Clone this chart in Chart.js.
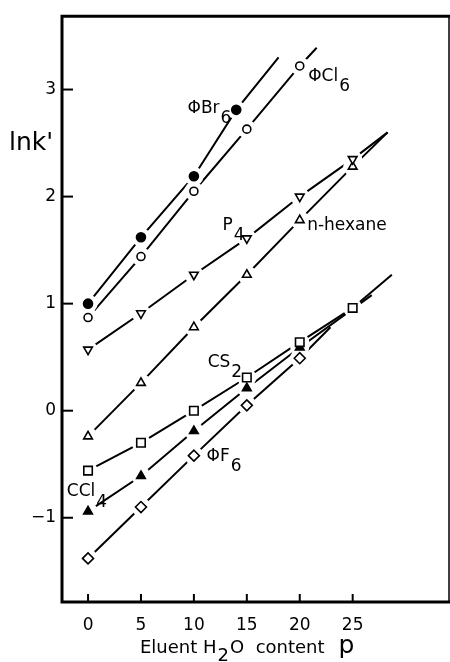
<!DOCTYPE html>
<html><head><meta charset="utf-8">
<script src="https://cdn.jsdelivr.net/npm/chart.js@4"></script>
<style>html,body{margin:0;padding:0;background:#fff;overflow:hidden}#wrap{width:450px;height:662px;position:relative}</style>
</head><body><div id="wrap"><canvas id="c"></canvas></div>
<script>
// Axis ticks
const xTicks = [0, 5, 10, 15, 20, 25];
const yTicks = [-1, 0, 1, 2, 3];

// ln k' against eluent water content p, one pair of arrays per solute,
// plus the end point of each fitted line
const brX = [0, 5, 10, 14];
const brY = [1.00, 1.62, 2.19, 2.81];
const brEnd = [18.0, 3.30];

const clX = [0, 5, 10, 15, 20];
const clY = [0.87, 1.44, 2.05, 2.63, 3.22];
const clEnd = [21.6, 3.39];

const p4X = [0, 5, 10, 15, 20, 25];
const p4Y = [0.57, 0.91, 1.27, 1.61, 2.00, 2.35];
const p4End = [28.3, 2.60];

const hexX = [0, 5, 10, 15, 20, 25];
const hexY = [-0.24, 0.26, 0.78, 1.27, 1.78, 2.28];
const hexEnd = [28.3, 2.60];

const cs2X = [0, 5, 10, 15, 20, 25];
const cs2Y = [-0.56, -0.30, 0.00, 0.31, 0.64, 0.96];
const cs2End = [28.7, 1.27];

const ccl4X = [0, 5, 10, 15, 20];
const ccl4Y = [-0.94, -0.61, -0.19, 0.21, 0.59];
const ccl4End = [26.8, 1.08];

const f6X = [0, 5, 10, 15, 20];
const f6Y = [-1.38, -0.90, -0.42, 0.05, 0.49];
const f6End = [22.9, 0.78];

const FONT = '"DejaVu Sans", sans-serif';

const series = [
  { x: brX, y: brY, end: brEnd, style: 'circle', r: 4.5, fill: '#000', rot: 0 },
  { x: clX, y: clY, end: clEnd, style: 'circle', r: 4, fill: '#fff', rot: 0 },
  { x: p4X, y: p4Y, end: p4End, style: 'triangle', r: 5, fill: '#fff', rot: 180 },
  { x: hexX, y: hexY, end: hexEnd, style: 'triangle', r: 5, fill: '#fff', rot: 0 },
  { x: cs2X, y: cs2Y, end: cs2End, style: 'rect', r: 6, fill: '#fff', rot: 0 },
  { x: ccl4X, y: ccl4Y, end: ccl4End, style: 'triangle', r: 5, fill: '#000', rot: 0 },
  { x: f6X, y: f6Y, end: f6End, style: 'rectRot', r: 5.5, fill: '#fff', rot: 0 }
];

// Solute names: [main, subscript, anchor p, anchor ln k']
const names = [
  ['ΦBr', '6', 9.4, 2.82],
  ['ΦCl', '6', 20.8, 3.12],
  ['P', '4', 12.7, 1.73],
  ['n-hexane', '', 20.7, 1.73],
  ['CS', '2', 11.3, 0.45],
  ['CCl', '4', -2.0, -0.76],
  ['ΦF', '6', 11.2, -0.43]
];

const pts = (xs, ys) => xs.map((v, i) => ({ x: v, y: ys[i] }));

// fitted lines at the back, white halos that open a gap round each
// point, and the point symbols on top
const lineSets = [], haloSets = [], markSets = [];
series.forEach(s => {
  lineSets.push({
    data: pts(s.x, s.y).concat([{ x: s.end[0], y: s.end[1] }]),
    showLine: true, borderColor: '#000', borderWidth: 2, pointRadius: 0,
    pointHoverRadius: 0, order: 3
  });
  haloSets.push({
    data: pts(s.x, s.y), showLine: false, pointRadius: 9.5,
    pointBackgroundColor: '#fff', pointBorderWidth: 0, pointBorderColor: '#fff',
    pointStyle: 'circle', order: 2
  });
  markSets.push({
    data: pts(s.x, s.y), showLine: false, pointRadius: s.r, pointStyle: s.style,
    pointRotation: s.rot, pointBackgroundColor: s.fill, pointBorderColor: '#000',
    pointBorderWidth: 1.6, order: 1
  });
});
const datasets = lineSets.concat(haloSets, markSets);

function drawSub(ctx, x, y, main, sub, size) {
  ctx.font = size + 'px ' + FONT;
  ctx.textAlign = 'left';
  ctx.textBaseline = 'middle';
  ctx.fillText(main, x, y);
  if (sub) {
    const w = ctx.measureText(main).width;
    ctx.fillText(sub, x + w + 1, y + size * 0.6);
  }
}

const decor = {
  id: 'decor',
  afterDraw(chart) {
    const { ctx, chartArea: a, scales } = chart;
    const sx = scales.x, sy = scales.y;
    ctx.save();
    ctx.strokeStyle = '#000';
    ctx.fillStyle = '#000';
    ctx.lineCap = 'square';
    // frame
    ctx.lineWidth = 3;
    ctx.beginPath();
    ctx.moveTo(a.right, a.top); ctx.lineTo(a.left, a.top);
    ctx.lineTo(a.left, a.bottom); ctx.lineTo(a.right, a.bottom);
    ctx.stroke();
    ctx.lineWidth = 1.5;
    ctx.beginPath(); ctx.moveTo(a.right, a.top); ctx.lineTo(a.right, a.bottom); ctx.stroke();
    // inward tick marks
    ctx.lineWidth = 2;
    ctx.lineCap = 'butt';
    xTicks.forEach(v => {
      const px = sx.getPixelForValue(v);
      ctx.beginPath(); ctx.moveTo(px, a.bottom); ctx.lineTo(px, a.bottom - 8); ctx.stroke();
    });
    yTicks.forEach(v => {
      const py = sy.getPixelForValue(v);
      ctx.beginPath(); ctx.moveTo(a.left, py); ctx.lineTo(a.left + 11, py); ctx.stroke();
    });
    // solute names
    names.forEach(n => {
      drawSub(ctx, sx.getPixelForValue(n[2]), sy.getPixelForValue(n[3]), n[0], n[1], 17);
    });
    // axis titles
    ctx.font = '25px ' + FONT;
    ctx.textAlign = 'left';
    ctx.textBaseline = 'middle';
    ctx.fillText("lnk'", 9, 143);
    let x = 140;
    const y = 648;
    ctx.font = '18px ' + FONT;
    ctx.fillText('Eluent H', x, y);
    x += ctx.measureText('Eluent H').width + 1;
    ctx.fillText('2', x, y + 8);
    x += ctx.measureText('2').width + 1;
    ctx.fillText('O  content', x, y);
    x += ctx.measureText('O  content').width + 14;
    ctx.font = '25px ' + FONT;
    ctx.fillText('p', x, y - 2);
    ctx.restore();
  }
};

new Chart(document.getElementById('c'), {
  type: 'scatter',
  data: { datasets },
  options: {
    responsive: true,
    maintainAspectRatio: false,
    animation: false,
    layout: { autoPadding: false, padding: { top: 11, right: 1, left: 0, bottom: 0 } },
    plugins: { legend: { display: false }, tooltip: { enabled: false } },
    scales: {
      x: {
        type: 'linear', min: -2.46, max: 34.1,
        grid: { display: false, drawTicks: false },
        border: { display: false },
        afterBuildTicks: s => { s.ticks = xTicks.map(v => ({ value: v })); },
        afterFit: s => { s.height = 60; },
        ticks: { color: '#000', padding: 13, font: { family: FONT, size: 17 } }
      },
      y: {
        type: 'linear', min: -1.787, max: 3.685,
        grid: { display: false, drawTicks: false },
        border: { display: false },
        afterBuildTicks: s => { s.ticks = yTicks.map(v => ({ value: v })); },
        afterFit: s => { s.width = 62; },
        ticks: {
          color: '#000', padding: 6, font: { family: FONT, size: 17 },
          callback: v => (v < 0 ? '−' + Math.abs(v) : String(v))
        }
      }
    }
  },
  plugins: [decor]
});
</script>
</body></html>
